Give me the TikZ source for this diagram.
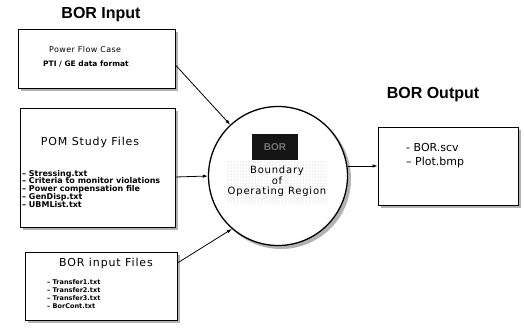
\documentclass[tikz,border=0pt]{standalone}
\usepackage{fontspec}
\setmainfont{Liberation Sans}
\newfontfamily\dvs[Ligatures=TeX]{DejaVu Sans}
\newfontfamily\dvsls[Ligatures=TeX,LetterSpace=8]{DejaVu Sans}
\newfontfamily\dvslt[Ligatures=TeX,LetterSpace=5]{DejaVu Sans}
\usetikzlibrary{arrows.meta,patterns}
\begin{document}
\begin{tikzpicture}[x=1pt,y=-1pt,
  boxstyle/.style={draw=black,line width=0.9pt,fill=white,inner sep=0pt},
  shadowstyle/.style={fill=black!30,draw=none,inner sep=0pt},
  titlestyle/.style={font=\fontsize{16}{18}\selectfont\bfseries},
  boxtitle/.style={font=\dvsls\fontsize{11}{13}\selectfont},
  itemstyle/.style={align=left,anchor=north west,inner sep=0pt},
  arr/.style={line width=0.8pt,-{Latex[length=5pt,width=3.5pt]}}]
\useasboundingbox (0,0) rectangle (524,330);
% titles
\node[titlestyle] (tin) at (101,15) {BOR Input};
\node[titlestyle] (tout) at (433,95) {BOR Output};
% shadows
\node[shadowstyle,minimum width=157pt,minimum height=59pt] (s1) at (99.5,61.5) {};
\node[shadowstyle,minimum width=155pt,minimum height=119pt] (s2) at (100.5,170.5) {};
\node[shadowstyle,minimum width=152pt,minimum height=68pt] (s3) at (104,289) {};
\node[shadowstyle,minimum width=140pt,minimum height=78pt] (so) at (451,169) {};
\node[shadowstyle,circle,minimum size=140pt] (sc) at (281,179) {};
% boxes
\node[boxstyle,minimum width=157pt,minimum height=59pt] (b1) at (96.5,58.5) {};
\node[boxstyle,minimum width=155pt,minimum height=119pt] (b2) at (97.5,167.5) {};
\node[boxstyle,minimum width=152pt,minimum height=68pt] (b3) at (101,286) {};
\node[boxstyle,minimum width=140pt,minimum height=78pt] (out) at (448,166) {};
% circle
\node[circle,draw=black,line width=1.3pt,fill=white,minimum size=139pt,inner sep=0pt] (circ) at (278,176) {};
\fill[pattern=dots,pattern color=black!30] (227,160) rectangle (327,203);
\node[fill=black!92,minimum width=46pt,minimum height=26pt,inner sep=0pt,
  text=black!55,font=\fontsize{10}{12}\selectfont\bfseries] (bor) at (275,147) {BOR};
\node[font=\dvsls\fontsize{10}{12}\selectfont,align=center,inner sep=0pt,anchor=north] (bnd) at (277,166)
  {Boundary\\[-1pt]of\\[-2.5pt]Operating Region};
% box 1 text
\node[font=\dvslt\fontsize{8}{10}\selectfont,anchor=west,inner sep=0pt] (t1a) at (49,50) {Power Flow Case};
\node[font=\dvs\fontsize{7.5}{9}\selectfont\bfseries,anchor=west,inner sep=0pt] (t1b) at (43,63.5) {PTI / GE data format};
% box 2 text
\node[boxtitle] (t2) at (90,142) {POM Study Files};
\node[itemstyle,font=\dvs\fontsize{8}{7.9}\selectfont\bfseries] (l2) at (22,169.8) {-- Stressing.txt\\-- Criteria to monitor violations\\-- Power compensation file\\-- GenDisp.txt\\-- UBMList.txt};
% box 3 text
\node[boxtitle] (t3) at (106,263) {BOR input Files};
\node[itemstyle,font=\dvs\fontsize{6.5}{8}\selectfont\bfseries] (l3) at (47,279.4) {-- Transfer1.txt\\-- Transfer2.txt\\-- Transfer3.txt\\-- BorCont.txt};
% output text
\node[itemstyle,font=\dvs\fontsize{11}{14}\selectfont] (lo) at (406,143.5) {- BOR.scv\\-- Plot.bmp};
% connectors
\draw[arr] ([yshift=-6.5pt]b1.east) -- (circ.133);
\draw[arr] ([yshift=-9.5pt]b2.east) -- (circ.west);
\draw[arr] ([yshift=23pt]b3.east) -- (circ.229);
\draw[arr] (circ.east |- out.west) -- (out.west);
\end{tikzpicture}
\end{document}
